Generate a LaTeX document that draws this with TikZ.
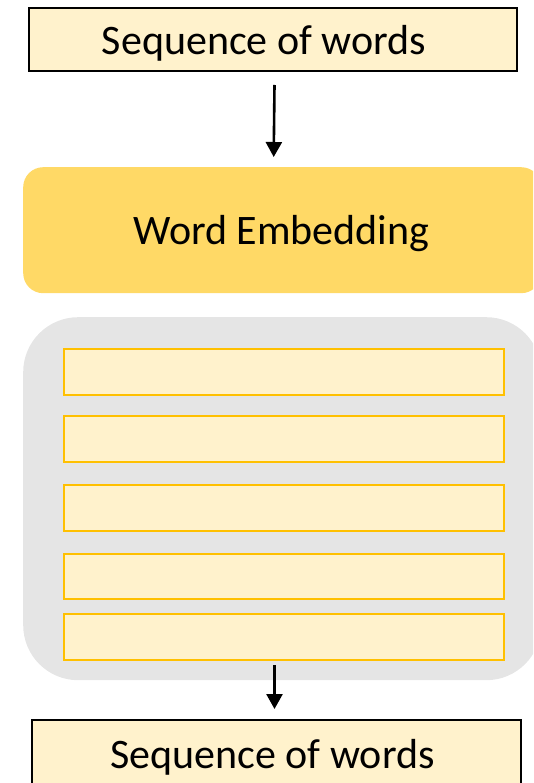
\documentclass[tikz,border=0pt]{standalone}
\usepackage{fontspec}
\setmainfont{Carlito}
\usetikzlibrary{arrows.meta}
\definecolor{paleyellow}{HTML}{FFF2CC}
\definecolor{goldfill}{HTML}{FFD966}
\definecolor{amberline}{HTML}{FFC000}
\definecolor{panelgray}{HTML}{E5E5E5}
\tikzset{
  seqbox/.style={draw=black, line width=2pt, fill=paleyellow, rectangle,
    inner sep=0pt, anchor=north west},
  embbox/.style={fill=goldfill, rectangle, rounded corners=20pt,
    inner sep=0pt, anchor=north west},
  panel/.style={fill=panelgray, rectangle, rounded corners=55pt,
    inner sep=0pt, anchor=north west},
  strip/.style={draw=amberline, line width=2pt, fill=paleyellow, rectangle,
    inner sep=0pt, anchor=north west, minimum width=440pt, minimum height=46pt},
  caption/.style={font=\fontsize{42}{50}\selectfont, inner sep=0pt, anchor=base},
  flow/.style={draw=black, line width=2.6pt, -{Triangle[width=16pt,length=15pt]}}
}
\begin{document}
\begin{tikzpicture}[x=1pt, y=-1pt]
  \useasboundingbox (0,0) rectangle (533,783);
  \clip (0,0) rectangle (533,783);

  % input sequence
  \node[seqbox, minimum width=488.5pt, minimum height=62.5pt] (top) at (27.5,7.5) {};
  \node[caption] (toptext) at (264,55) {Sequence of words};

  % embedding layer (runs past the right edge)
  \node[embbox, minimum width=518pt, minimum height=126pt] (we) at (23,167) {};
  \node[caption] (wetext) at (281.5,245) {Word Embedding};

  % stack of layers (runs past the right edge)
  \node[panel, minimum width=518pt, minimum height=363pt] (stack) at (23,317) {};
  \node[strip] (s1) at (63,348) {};
  \node[strip] (s2) at (63,415) {};
  \node[strip] (s3) at (63,484) {};
  \node[strip, minimum height=45pt] (s4) at (63,553) {};
  \node[strip] (s5) at (63,613) {};

  % output sequence
  \node[seqbox, minimum width=489pt, minimum height=90pt] (bottom) at (31,719) {};
  \node[caption] (bottomtext) at (272.5,768) {Sequence of words};

  % connectors
  \draw[flow] ([xshift=1.75pt, yshift=-13pt]top.south) -- ([xshift=-8.5pt, yshift=10pt]we.north);
  \draw[flow] ([xshift=-9.5pt, yshift=-4pt]s5.south) -- ([xshift=-2pt, yshift=10pt]bottom.north);
\end{tikzpicture}
\end{document}
